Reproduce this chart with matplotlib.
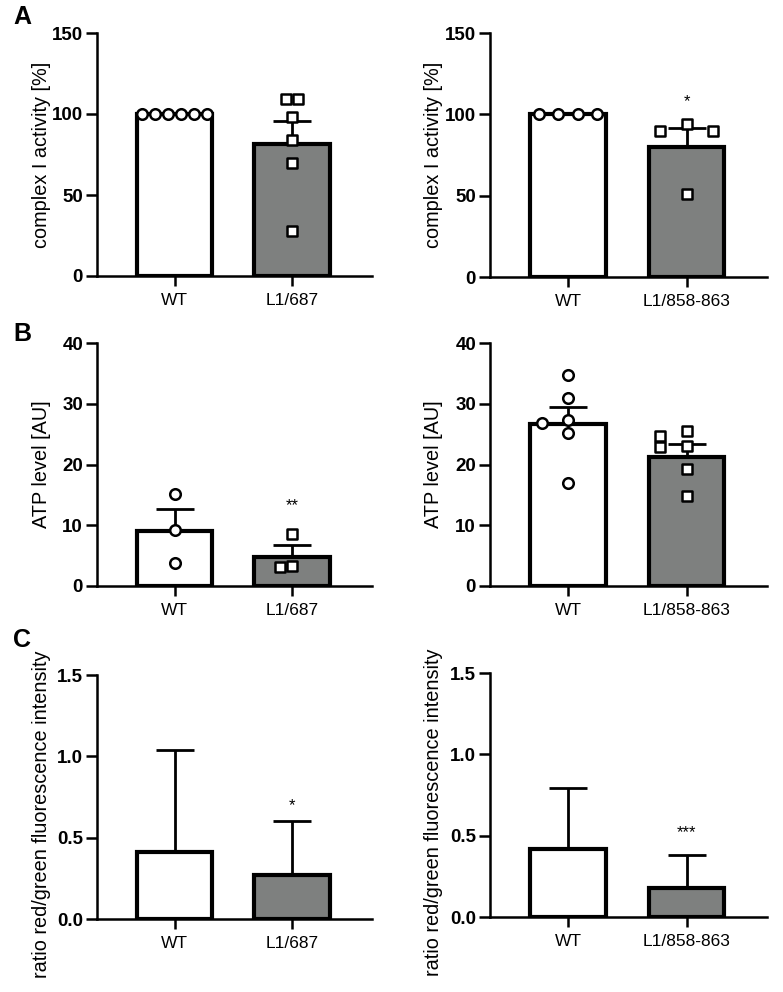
import numpy as np
import matplotlib.pyplot as plt

# -----------------------------
# Data
# -----------------------------
groups_left = ["WT", "L1/687"]
groups_right = ["WT", "L1/858-863"]

# A: complex I activity [%]
a_left_wt = [100, 100, 100, 100, 100, 100]
a_left_mut = [109, 109, 98, 84, 70, 28]
a_left_means = [100, 81.6]
a_left_sem = [0, 13.8]

a_right_wt = [100, 100, 100, 100]
a_right_mut = [94, 90, 90, 51]
a_right_means = [100, 80.1]
a_right_sem = [0, 11.3]

# B: ATP level [AU]
b_left_wt = [15.2, 9.3, 3.8]
b_left_mut = [8.5, 3.3, 3.1]
b_left_means = [9.1, 4.7]
b_left_sem = [3.6, 2.1]

b_right_wt = [34.8, 30.9, 27.4, 26.8, 25.2, 16.9]
b_right_mut = [25.5, 24.7, 23.1, 22.8, 19.3, 14.8]
b_right_means = [26.7, 21.3]
b_right_sem = [2.8, 2.0]

# C: ratio red/green fluorescence intensity
c_left_means = [0.41, 0.27]
c_left_sd = [0.63, 0.33]
c_right_means = [0.42, 0.18]
c_right_sd = [0.375, 0.20]

stars = {"a_right": "*", "b_left": "**", "c_left": "*", "c_right": "***"}

# -----------------------------
# Style
# -----------------------------
plt.rcParams["font.family"] = ["Liberation Sans", "DejaVu Sans"]
GRAY = "#7e807f"
W, H = 783, 992


def swarm(values, px_per_unit_y, step=0.1, px_per_unit_x=118, size_px=11):
    # simple beeswarm: spread points that would overlap
    placed = []
    offsets = [0.0] * len(values)
    order = np.argsort(values, kind="stable")[::-1]
    for i in order:
        y = values[i] * px_per_unit_y
        k = 0
        while True:
            cand = 0 if k == 0 else ((k + 1) // 2) * step * (-1 if k % 2 else 1)
            ok = True
            for (ox, oy) in placed:
                if abs(ox - cand) * px_per_unit_x < size_px - 0.5 and abs(oy - y) < size_px - 0.5:
                    ok = False
                    break
            if ok:
                break
            k += 1
        placed.append((cand, y))
        offsets[i] = cand
    # center rows of identical values
    offsets = np.array(offsets)
    vals = np.array(values)
    for v in np.unique(vals):
        m = vals == v
        if m.sum() > 1:
            offsets[m] -= offsets[m].mean()
    return offsets


def panel(rect, labels, means, err, ymax, yticks, ylabel, wt_pts=None, mut_pts=None,
          star=None, star_y=None, ylabel_y=0.5, fmt=None, steps=(0.2, 0.2)):
    ax = fig.add_axes(rect)
    x = np.arange(len(labels))
    ax.bar(x, means, width=0.64, color=["white", GRAY], edgecolor="black",
           linewidth=3.0, zorder=2)
    ax.errorbar(x, means, yerr=[np.zeros(len(err)), err], fmt="none", ecolor="black",
                elinewidth=2.0, capsize=13.5, capthick=2.0, zorder=3)
    ax_h_px = rect[3] * H
    ppu = ax_h_px / ymax
    if wt_pts is not None:
        off = swarm(wt_pts, ppu, step=steps[0])
        ax.scatter(x[0] + off, wt_pts, s=58, marker="o", facecolor="white",
                   edgecolor="black", linewidth=1.8, zorder=4, clip_on=False)
    if mut_pts is not None:
        off = swarm(mut_pts, ppu, step=steps[1])
        ax.scatter(x[1] + off, mut_pts, s=58, marker="s", facecolor="white",
                   edgecolor="black", linewidth=1.8, zorder=4, clip_on=False)
    if star:
        ax.text(x[1], star_y, star, ha="center", va="center", fontsize=12)
    ax.set_xlim(-0.66, 1.68)
    ax.set_ylim(0, ymax)
    ax.set_yticks(yticks)
    if fmt:
        ax.set_yticklabels([fmt.format(t) for t in yticks])
    ax.set_xticks(x)
    ax.set_xticklabels(labels, fontsize=12.5)
    for lab in ax.get_yticklabels():
        lab.set_fontweight("bold")
        lab.set_fontsize(13.5)
    ax.spines["top"].set_visible(False)
    ax.spines["right"].set_visible(False)
    ax.spines["left"].set_linewidth(1.8)
    ax.spines["bottom"].set_linewidth(1.8)
    ax.tick_params(axis="y", length=8, width=1.8, pad=2)
    ax.tick_params(axis="x", length=7, width=1.8, pad=5)
    ax.set_ylabel(ylabel, fontsize=14.3)
    ax.yaxis.set_label_coords(-0.168, ylabel_y)
    return ax


fig = plt.figure(figsize=(W / 100, H / 100), dpi=100)

# panel A
panel([97 / W, 1 - 276 / H, 275 / W, 243 / H], groups_left, a_left_means, a_left_sem,
      150, [0, 50, 100, 150], "complex I activity [%]", a_left_wt, a_left_mut,
      steps=(0.11, 0.105))
panel([490 / W, 1 - 277 / H, 277 / W, 244 / H], groups_right, a_right_means, a_right_sem,
      150, [0, 50, 100, 150], "complex I activity [%]", a_right_wt, a_right_mut,
      star=stars["a_right"], star_y=108, steps=(0.165, 0.22))

# panel B
panel([97 / W, 1 - 586 / H, 275 / W, 243 / H], groups_left, b_left_means, b_left_sem,
      40, [0, 10, 20, 30, 40], "ATP level [AU]", b_left_wt, b_left_mut,
      star=stars["b_left"], star_y=13.3, steps=(0.1, 0.1))
panel([490 / W, 1 - 586 / H, 277 / W, 243 / H], groups_right, b_right_means, b_right_sem,
      40, [0, 10, 20, 30, 40], "ATP level [AU]", b_right_wt, b_right_mut,
      steps=(0.22, 0.22))

# panel C
panel([97 / W, 1 - 919 / H, 275 / W, 244 / H], groups_left, c_left_means, c_left_sd,
      1.5, [0, 0.5, 1.0, 1.5], "ratio red/green fluorescence intensity",
      star=stars["c_left"], star_y=0.70, ylabel_y=0.43, fmt="{:.1f}")
panel([490 / W, 1 - 917 / H, 277 / W, 244 / H], groups_right, c_right_means, c_right_sd,
      1.5, [0, 0.5, 1.0, 1.5], "ratio red/green fluorescence intensity",
      star=stars["c_right"], star_y=0.52, ylabel_y=0.43, fmt="{:.1f}")

for letter, ypx in [("A", 17), ("B", 334), ("C", 640)]:
    fig.text(22 / W, 1 - ypx / H, letter, fontsize=18, fontweight="bold",
             ha="center", va="center")

plt.savefig("out.png", dpi=100)
